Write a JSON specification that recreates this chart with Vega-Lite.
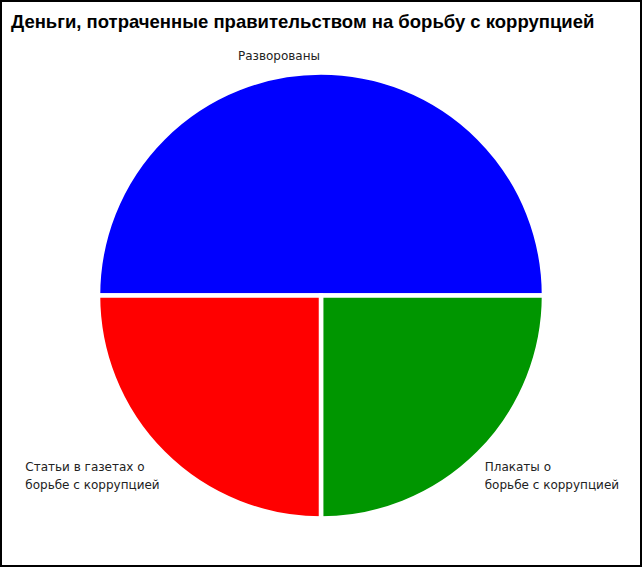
{
  "$schema": "https://vega.github.io/schema/vega-lite/v6.json",
  "width": 642,
  "height": 567,
  "autosize": {"type": "fit", "contains": "padding"},
  "padding": 0,
  "background": "white",
  "title": {
    "text": "Деньги, потраченные правительством на борьбу с коррупцией",
    "anchor": "start",
    "offset": -31,
    "dx": 11,
    "font": "Liberation Sans",
    "fontSize": 18.5,
    "fontWeight": "bold",
    "color": "black"
  },
  "data": {
    "values": [
      {"part": "Разворованы", "share": 50, "order": 1, "label": ["Разворованы"]},
      {"part": "Плакаты", "share": 25, "order": 2, "label": ["Плакаты о", "борьбе с коррупцией"]},
      {"part": "Статьи", "share": 25, "order": 3, "label": ["Статьи в газетах о", "борьбе с коррупцией"]}
    ]
  },
  "layer": [
    {
      "data": {"values": [{"frame": 1}]},
      "mark": {"type": "rect", "fill": null, "stroke": "black", "strokeWidth": 2},
      "encoding": {}
    },
    {
      "mark": {"type": "arc", "outerRadius": 223, "stroke": "white", "strokeWidth": 4.5, "y": {"expr": "height/2 + 12"}},
      "encoding": {
        "theta": {"field": "share", "type": "quantitative", "stack": true, "scale": {"range": [-1.5708, 4.7124]}},
        "order": {"field": "order", "type": "quantitative"},
        "color": {
          "field": "part",
          "type": "nominal",
          "scale": {"domain": ["Разворованы", "Плакаты", "Статьи"], "range": ["#0000ff", "#009600", "#ff0000"]},
          "legend": null
        }
      }
    },
    {
      "mark": {"type": "text", "radius": 240, "align": "center", "baseline": "middle", "dx": -42, "font": "DejaVu Sans", "fontSize": 12, "color": "#222222", "y": {"expr": "height/2 + 12"}},
      "encoding": {
        "theta": {"field": "share", "type": "quantitative", "stack": true},
        "order": {"field": "order", "type": "quantitative"},
        "text": {"condition": {"test": "datum.part === 'Разворованы'", "field": "label", "type": "nominal"}, "value": ""}
      }
    },
    {
      "mark": {"type": "text", "radius": 240, "align": "left", "baseline": "alphabetic", "lineHeight": 18, "dx": -6, "dy": 6, "font": "DejaVu Sans", "fontSize": 12, "color": "#222222", "y": {"expr": "height/2 + 12"}},
      "encoding": {
        "theta": {"field": "share", "type": "quantitative", "stack": true},
        "order": {"field": "order", "type": "quantitative"},
        "text": {"condition": {"test": "datum.part === 'Плакаты'", "field": "label", "type": "nominal"}, "value": ""}
      }
    },
    {
      "mark": {"type": "text", "radius": 240, "align": "left", "baseline": "alphabetic", "lineHeight": 18, "dx": -126, "dy": 6, "font": "DejaVu Sans", "fontSize": 12, "color": "#222222", "y": {"expr": "height/2 + 12"}},
      "encoding": {
        "theta": {"field": "share", "type": "quantitative", "stack": true},
        "order": {"field": "order", "type": "quantitative"},
        "text": {"condition": {"test": "datum.part === 'Статьи'", "field": "label", "type": "nominal"}, "value": ""}
      }
    }
  ]
}
